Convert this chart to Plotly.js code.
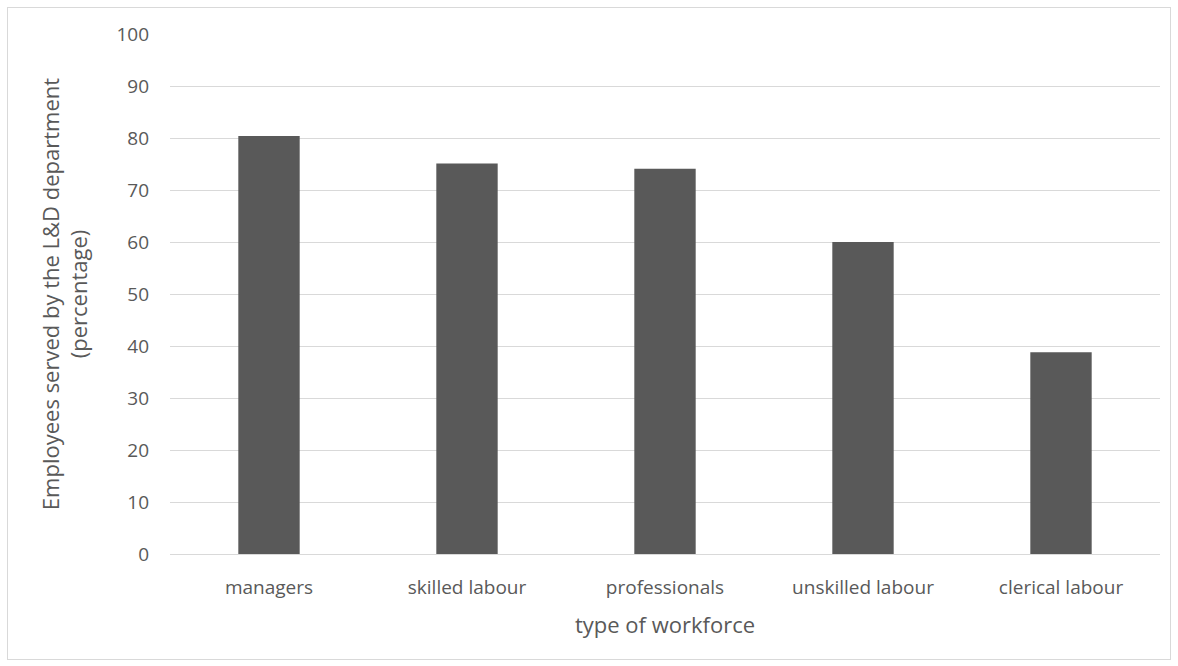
<!DOCTYPE html>
<html>
<head>
<meta charset="utf-8">
<script src="https://cdn.plot.ly/plotly-3.0.1.min.js"></script>
<style>
  html, body { margin: 0; padding: 0; background: #ffffff; }
  #wrap { position: relative; width: 1178px; height: 666px; }
  #frame { position: absolute; left: 7px; top: 7px; width: 1162px; height: 651px;
           border: 1px solid #d9d9d9; pointer-events: none; }
  #chart { position: absolute; left: 0; top: 0; width: 1178px; height: 666px; }
</style>
</head>
<body>
<div id="wrap">
  <div id="chart"></div>
  <div id="frame"></div>
</div>
<script>
// Share of employees served by the L&D department, by type of workforce
const categories = ["managers", "skilled labour", "professionals", "unskilled labour", "clerical labour"];
const percentages = [80.4, 75.1, 74.1, 60.0, 38.8];
const yTickValues = [0, 10, 20, 30, 40, 50, 60, 70, 80, 90, 100];

const textColor = "#595959";
const fontFamily = "'Open Sans', Lato, sans-serif";

const trace = {
  type: "bar",
  x: categories,
  y: percentages,
  marker: { color: "#595959" },
  hoverinfo: "x+y"
};

const layout = {
  width: 1178,
  height: 666,
  margin: { l: 170, r: 18, t: 34, b: 112 },
  paper_bgcolor: "rgba(0,0,0,0)",
  plot_bgcolor: "#ffffff",
  bargap: 0.69,
  showlegend: false,
  font: { family: fontFamily, color: textColor, size: 20 },
  xaxis: {
    type: "category",
    showgrid: false,
    showline: false,
    ticks: "",
    ticklabelstandoff: 20,
    tickfont: { size: 19, color: textColor, family: fontFamily },
    title: { text: "type of workforce", font: { size: 22, color: textColor, family: fontFamily }, standoff: 18 },
    automargin: false
  },
  yaxis: {
    range: [0, 100],
    tickvals: yTickValues,
    ticktext: yTickValues.map(String),
    showgrid: true,
    gridcolor: "#d9d9d9",
    gridwidth: 1,
    zeroline: true,
    zerolinecolor: "#d9d9d9",
    zerolinewidth: 1,
    showline: false,
    ticks: "",
    ticklabelstandoff: 20,
    tickfont: { size: 19, color: textColor, family: fontFamily },
    title: {
      text: "Employees served by the L&D department<br>(percentage)",
      font: { size: 22, color: textColor, family: fontFamily },
      standoff: 22
    },
    automargin: false
  }
};

Plotly.newPlot("chart", [trace], layout, { displayModeBar: false, staticPlot: true });
</script>
</body>
</html>
